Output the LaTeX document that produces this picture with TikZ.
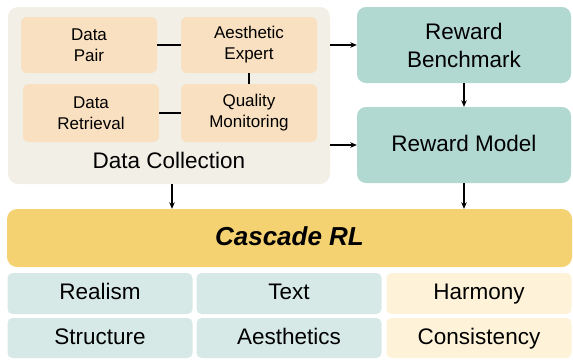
\documentclass[tikz,border=0pt]{standalone}
\usepackage{fontspec}
\setmainfont{Liberation Sans}
\usetikzlibrary{arrows.meta}
\definecolor{bgc}{HTML}{F2EFE6}
\definecolor{peach}{HTML}{F8E0C0}
\definecolor{tealc}{HTML}{B2D8D2}
\definecolor{gold}{HTML}{F5D271}
\definecolor{ltteal}{HTML}{D6E9E6}
\definecolor{ltyel}{HTML}{FEF3D9}
\tikzset{
  box/.style={rectangle, inner sep=0pt, align=center},
  small/.style={box, fill=peach, rounded corners=6pt, minimum width=136pt, font=\fontsize{17}{21}\selectfont},
  reward/.style={box, fill=tealc, rounded corners=9pt, minimum width=214pt, minimum height=76pt, font=\fontsize{22.5}{28}\selectfont},
  cell/.style={box, rounded corners=5pt, minimum width=185pt, text height=16.5pt, text depth=4.5pt, font=\fontsize{22.5}{27}\selectfont},
  conn/.style={line width=1.5pt},
  arr/.style={line width=1.1pt, -{Stealth[length=6.5pt,width=5.5pt]}}
}
\begin{document}
\begin{tikzpicture}[x=1pt,y=-1pt]
\useasboundingbox (0,0) rectangle (573,360);
% data collection
\node[box, fill=bgc, rounded corners=10pt, minimum width=322pt, minimum height=177pt] (dc) at (169,95.5) {};
\node[box, font=\fontsize{22.5}{27}\selectfont] (dclab) at (169,160) {Data Collection};
\node[small, minimum height=56pt] (dp) at (89,45) {Data\\Pair};
\node[small, minimum height=56pt] (ae) at (249,45) {Aesthetic\\Expert};
\node[small, minimum height=58pt] (dr) at (91,113) {Data\\Retrieval};
\node[small, minimum height=58pt] (qm) at (249,113) {Quality\\Monitoring};
\draw[conn] (dp.east) -- (ae.west);
\draw[conn] (ae.south) -- (qm.north);
\draw[conn] (dr.east) -- (qm.west);
% reward
\node[reward] (rb) at (464,45) {Reward\\Benchmark};
\node[reward, text height=16.5pt, text depth=4.5pt] (rm) at (464,145) {Reward Model};
\draw[arr] (dc.east |- rb.west) -- (rb.west);
\draw[arr] (dc.east |- rm.west) -- (rm.west);
\draw[arr] (rb.south) -- (rm.north);
% cascade
\node[box, fill=gold, rounded corners=10pt, minimum width=565pt, minimum height=58pt, text height=19pt, text depth=5pt, font=\fontsize{26}{30}\selectfont\bfseries\itshape] (cr) at (289.5,238) {Cascade RL};
\coordinate (dcs) at ([xshift=3pt]dc.south);
\draw[arr] (dcs) -- (dcs |- cr.north);
\draw[arr] (rm.south) -- (rm.south |- cr.north);
% cells
\node[cell, fill=ltteal, minimum height=41pt] (c1) at (100,293.5) {Realism};
\node[cell, fill=ltteal, minimum height=41pt] (c2) at (289,293.5) {Text};
\node[cell, fill=ltyel, minimum height=41pt] (c3) at (479,293.5) {Harmony};
\node[cell, fill=ltteal, minimum height=40pt] (c4) at (100,338) {Structure};
\node[cell, fill=ltteal, minimum height=40pt] (c5) at (289,338) {Aesthetics};
\node[cell, fill=ltyel, minimum height=40pt] (c6) at (479,338) {Consistency};
\end{tikzpicture}
\end{document}
